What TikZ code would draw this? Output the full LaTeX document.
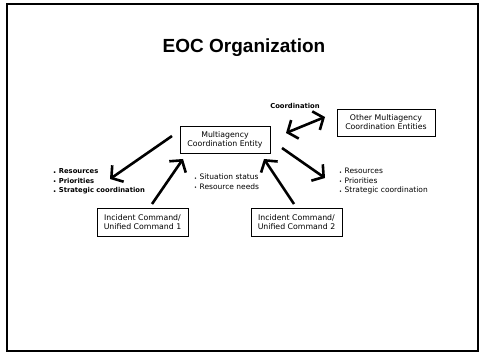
\documentclass[tikz,border=0pt]{standalone}
\usepackage{fontspec}
\setmainfont{DejaVu Sans}
\newfontfamily\titlefont{Liberation Sans}
\usetikzlibrary{arrows.meta}

\newcommand{\bul}{{\fontsize{5}{5}\selectfont\raisebox{-0.3pt}{•}}\hspace{2.5pt}}

\tikzset{
  box/.style={draw, line width=0.9pt, align=center, font=\fontsize{7.8}{9}\selectfont, inner sep=0pt},
  fat/.style={line width=2.6pt, -{Straight Barb[length=8pt,width=20pt]}},
  fatboth/.style={line width=2.6pt, {Straight Barb[length=8pt,width=20pt]}-{Straight Barb[length=8pt,width=20pt]}},
  bullets/.style={align=left, anchor=west, inner sep=0pt, font=\fontsize{7.5}{9.5}\selectfont},
}

\begin{document}
\begin{tikzpicture}[x=1pt, y=-1pt]
\useasboundingbox (0,0) rectangle (479,352);
\draw[line width=1.5pt] (7,4) rectangle (478,351);

\node (title) at (244,48) {\titlefont\bfseries\fontsize{19}{23}\selectfont EOC Organization};

\node[box, minimum width=90pt, minimum height=27pt] (mce) at (225,139.5) {Multiagency\\Coordination Entity};
\node[box, minimum width=98pt, minimum height=27pt] (other) at (386,122.5) {Other Multiagency\\Coordination Entities};
\node[box, minimum width=91pt, minimum height=28pt] (ic1) at (142.5,222) {Incident Command/\\Unified Command 1};
\node[box, minimum width=91pt, minimum height=28pt] (ic2) at (296.5,222) {Incident Command/\\Unified Command 2};

\node[font=\bfseries\fontsize{6.8}{8}\selectfont] (coord) at (295,106) {Coordination};

\node[bullets, font=\bfseries\fontsize{6.8}{9.5}\selectfont] (leftlist) at (53,181.5)
  {\bul Resources\\ \bul Priorities\\ \bul Strategic coordination};
\node[bullets] (midlist) at (194,182) {\bul Situation status\\ \bul Resource needs};
\node[bullets] (rightlist) at (339,181.5)
  {\bul Resources\\ \bul Priorities\\ \bul Strategic coordination};

% arrow ends
\coordinate (a1s) at (172,136);
\coordinate (a1e) at (110,179);
\coordinate (a2s) at (152,204);
\coordinate (a2e) at (183,159);
\coordinate (a3s) at (294,204);
\coordinate (a3e) at (264,159);
\coordinate (a4s) at (282,148);
\coordinate (a4e) at (325,178);
\coordinate (a5s) at (286,133);
\coordinate (a5e) at (325,117);

\draw[fat] (a1s) -- (a1e);
\draw[fat] (a2s) -- (a2e);
\draw[fat] (a3s) -- (a3e);
\draw[fat] (a4s) -- (a4e);
\draw[fatboth] (a5s) -- (a5e);
\end{tikzpicture}
\end{document}
